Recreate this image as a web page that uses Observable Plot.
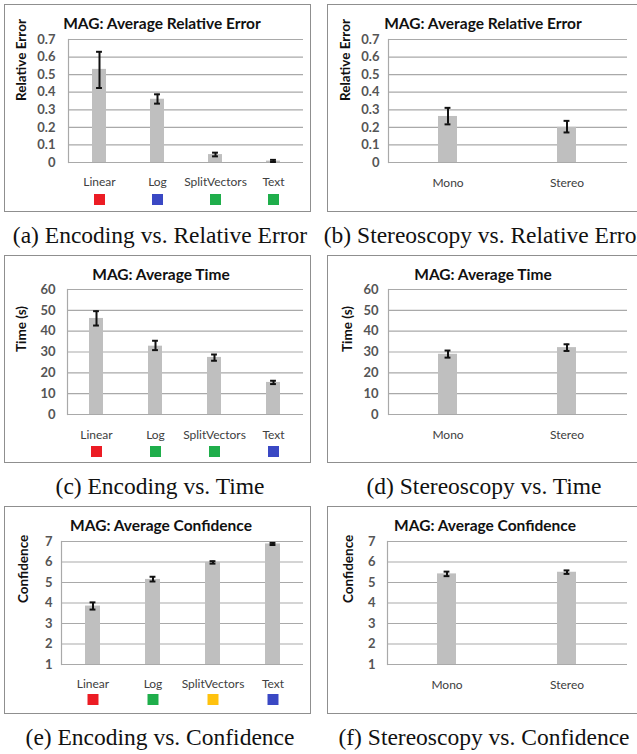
<!DOCTYPE html>
<html><head><meta charset="utf-8">
<script src="https://cdn.jsdelivr.net/npm/d3@7"></script>
<script src="https://cdn.jsdelivr.net/npm/@observablehq/plot@0.6"></script>
<style>
body{margin:0;background:#fff;}
#root{position:relative;width:637px;height:754px;overflow:hidden;background:#fff;}
.box{position:absolute;border:1px solid #8f8f8f;background:#fff;box-sizing:border-box;}
.box svg{position:absolute;left:0;top:0;}
.ttl{position:absolute;font:bold 15.5px Lato;color:#111;white-space:nowrap;transform:translate(-50%,-50%);}
.cap{position:absolute;font:23.5px "Liberation Serif";color:#111;white-space:nowrap;transform:translate(-50%,-50%);}
</style></head><body><div id="root"></div>
<script>
// ---- data ----
const encodingCats = ["Linear", "Log", "SplitVectors", "Text"];
const stereoCats = ["Mono", "Stereo"];

const relErrTicks = [0, 0.1, 0.2, 0.3, 0.4, 0.5, 0.6, 0.7];
const timeTicks = [0, 10, 20, 30, 40, 50, 60];
const confTicks = [1, 2, 3, 4, 5, 6, 7];

const encRelErrMean = [0.53, 0.36, 0.045, 0.008];
const encRelErrLow  = [0.424, 0.335, 0.035, 0.003];
const encRelErrHigh = [0.63, 0.388, 0.056, 0.015];
const encRelErrColors = ["#ec1c24", "#3a48c4", "#1fae4b", "#1fae4b"];

const stRelErrMean = [0.262, 0.20];
const stRelErrLow  = [0.217, 0.171];
const stRelErrHigh = [0.311, 0.237];

const encTimeMean = [46.1, 32.8, 27.4, 15.4];
const encTimeLow  = [42.7, 30.9, 25.8, 14.6];
const encTimeHigh = [49.6, 35.4, 28.8, 16.2];
const encTimeColors = ["#ec1c24", "#1fae4b", "#1fae4b", "#3a48c4"];

const stTimeMean = [28.9, 32.1];
const stTimeLow  = [27.3, 30.5];
const stTimeHigh = [30.7, 33.7];

const encConfMean = [3.85, 5.15, 5.98, 6.88];
const encConfLow  = [3.68, 5.05, 5.92, 6.83];
const encConfHigh = [4.03, 5.28, 6.04, 6.93];
const encConfColors = ["#ec1c24", "#1fae4b", "#ffc20e", "#3a48c4"];

const stConfMean = [5.42, 5.50];
const stConfLow  = [5.31, 5.42];
const stConfHigh = [5.53, 5.59];

const titles = ["MAG: Average Relative Error", "MAG: Average Time", "MAG: Average Confidence"];
const yLabels = ["Relative Error", "Time (s)", "Confidence"];
const captions = [
  "(a) Encoding vs. Relative Error", "(b) Stereoscopy vs. Relative Error",
  "(c) Encoding vs. Time", "(d) Stereoscopy vs. Time",
  "(e) Encoding vs. Confidence", "(f) Stereoscopy vs. Confidence"
];

// ---- layout ----
const root = document.getElementById("root");
const cols = [{left: 4, w: 307, capX: 160}, {left: 327, w: 314, capX: 484}];
const rows = [4, 255, 506];
const boxH = 208;

function panel(cfg) {
  const col = cols[cfg.col], top = rows[cfg.row];
  const box = document.createElement("div");
  box.className = "box";
  box.style.left = col.left + "px"; box.style.top = top + "px";
  box.style.width = col.w + "px"; box.style.height = boxH + "px";
  root.appendChild(box);
  const W = col.w - 2, H = boxH - 2;
  const data = cfg.cats.map((c, i) => ({cat: c, v: cfg.mean[i], lo: cfg.low[i], hi: cfg.high[i], color: cfg.colors ? cfg.colors[i] : null}));
  const pi = cfg.pad;
  const step = (W - cfg.ml - cfg.mr) / cfg.cats.length;
  const bw = step * (1 - pi);
  const capInset = (bw - 6) / 2;
  const marks = [
    Plot.ruleY(cfg.ticks, {y: d => d, stroke: "#a9a9a9", strokeWidth: 1.2}),
    Plot.frame({anchor: "left", stroke: "#a9a9a9", strokeWidth: 1.2}),
    Plot.barY(data, {x: "cat", y1: cfg.ticks[0], y2: "v", fill: "#bfbfbf"}),
    Plot.ruleX(data, {x: "cat", y1: "lo", y2: "hi", stroke: "#111", strokeWidth: 2}),
    Plot.tickY(data, {x: "cat", y: "lo", stroke: "#111", strokeWidth: 2, insetLeft: capInset, insetRight: capInset}),
    Plot.tickY(data, {x: "cat", y: "hi", stroke: "#111", strokeWidth: 2, insetLeft: capInset, insetRight: capInset}),
    Plot.axisY({ticks: cfg.ticks, tickSize: 0, tickPadding: cfg.yPad, label: null, fontWeight: "bold", fontSize: 13, fill: "#555", tickFormat: d => String(d)}),
    Plot.axisX({tickSize: 0, tickPadding: cfg.xPad, label: null, fontSize: 12, fill: "#404040"}),
    Plot.text([cfg.ylabel], {frameAnchor: "left", dx: cfg.ylabX - cfg.ml, rotate: -90, fontWeight: "bold", fontSize: 13.5, fill: "#111"})
  ];
  if (cfg.colors) {
    marks.push(Plot.dot(data, {x: "cat", frameAnchor: "bottom", dy: cfg.swDy, symbol: "square", r: 6.2, fill: "color"}));
  }
  const svg = Plot.plot({
    width: W, height: H,
    marginLeft: cfg.ml, marginRight: cfg.mr, marginTop: cfg.mt, marginBottom: cfg.mb,
    style: {color: "#555", fontFamily: "Lato", background: "transparent"},
    x: {domain: cfg.cats, paddingInner: pi, paddingOuter: pi / 2},
    y: {domain: [cfg.ticks[0], cfg.ticks[cfg.ticks.length - 1]]},
    color: {type: "identity"},
    marks
  });
  box.appendChild(svg);
  const t = document.createElement("div");
  t.className = "ttl"; t.textContent = cfg.title;
  t.style.left = cfg.titleX + "px"; t.style.top = cfg.titleY + "px";
  root.appendChild(t);
  const c = document.createElement("div");
  c.className = "cap"; c.textContent = cfg.caption;
  c.style.left = col.capX + "px"; c.style.top = (top + boxH + 23) + "px";
  root.appendChild(c);
}

panel({col: 0, row: 0, cats: encodingCats, mean: encRelErrMean, low: encRelErrLow, high: encRelErrHigh, colors: encRelErrColors,
  ticks: relErrTicks, ylabel: yLabels[0], title: titles[0], caption: captions[0],
  ml: 63, mr: 7, mt: 34, mb: 49, pad: 0.76, yPad: 13, xPad: 15, swDy: 37, ylabX: 16, titleX: 162, titleY: 23});
panel({col: 1, row: 0, cats: stereoCats, mean: stRelErrMean, low: stRelErrLow, high: stRelErrHigh,
  ticks: relErrTicks, ylabel: yLabels[0], title: titles[0], caption: captions[1],
  ml: 60, mr: 13, mt: 34, mb: 49, pad: 0.84, yPad: 9, xPad: 16, ylabX: 17, titleX: 483, titleY: 23});
panel({col: 0, row: 1, cats: encodingCats, mean: encTimeMean, low: encTimeLow, high: encTimeHigh, colors: encTimeColors,
  ticks: timeTicks, ylabel: yLabels[1], title: titles[1], caption: captions[2],
  ml: 62, mr: 7, mt: 33, mb: 48, pad: 0.76, yPad: 12, xPad: 16, swDy: 37, ylabX: 16, titleX: 161, titleY: 274});
panel({col: 1, row: 1, cats: stereoCats, mean: stTimeMean, low: stTimeLow, high: stTimeHigh,
  ticks: timeTicks, ylabel: yLabels[1], title: titles[1], caption: captions[3],
  ml: 60, mr: 13, mt: 33, mb: 48, pad: 0.84, yPad: 10, xPad: 16, ylabX: 19, titleX: 483, titleY: 274});
panel({col: 0, row: 2, cats: encodingCats, mean: encConfMean, low: encConfLow, high: encConfHigh, colors: encConfColors,
  ticks: confTicks, ylabel: yLabels[2], title: titles[2], caption: captions[4],
  ml: 56, mr: 7, mt: 34, mb: 49, pad: 0.75, yPad: 9, xPad: 15, swDy: 35, ylabX: 18, titleX: 161, titleY: 525});
panel({col: 1, row: 2, cats: stereoCats, mean: stConfMean, low: stConfLow, high: stConfHigh,
  ticks: confTicks, ylabel: yLabels[2], title: titles[2], caption: captions[5],
  ml: 59, mr: 13, mt: 34, mb: 49, pad: 0.84, yPad: 12, xPad: 16, ylabX: 20, titleX: 485, titleY: 525});
</script></body></html>
